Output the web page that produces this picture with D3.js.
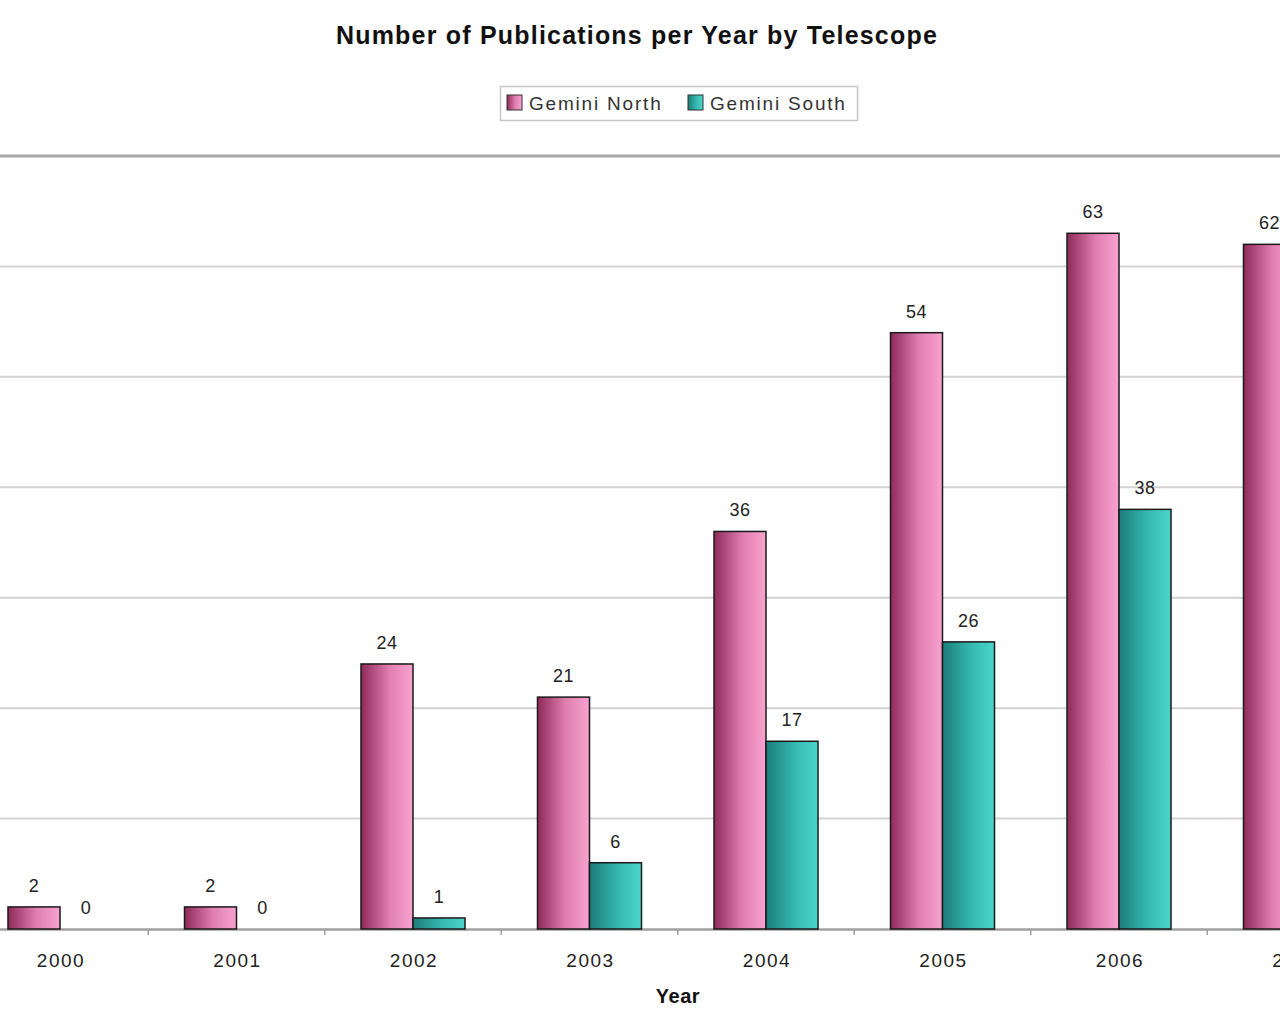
<!DOCTYPE html>
<html><head><meta charset="utf-8">
<script src="https://cdn.jsdelivr.net/npm/d3@7/dist/d3.min.js"></script>
<style>body{margin:0;background:#fff;}svg{display:block;font-family:"Liberation Sans",Arial,sans-serif;}</style>
</head><body>
<svg id="chart" width="1280" height="1024"></svg>
<script>
const years = ["2000","2001","2002","2003","2004","2005","2006","2007"];
const seriesNames = ["Gemini North","Gemini South"];
const northValues = [2, 2, 24, 21, 36, 54, 63, 62];
const southValues = [0, 0, 1, 6, 17, 26, 38, null];
const yTicks = [0,10,20,30,40,50,60,70];
const chartTitle = "Number of Publications per Year by Telescope";
const xTitle = "Year";

const svg = d3.select("#chart");
const defs = svg.append("defs");
function grad(id, c1, c2, c3){
  const g = defs.append("linearGradient").attr("id", id).attr("x1","0").attr("x2","1").attr("y1","0").attr("y2","0");
  g.append("stop").attr("offset","0%").attr("stop-color",c1);
  g.append("stop").attr("offset","55%").attr("stop-color",c2);
  g.append("stop").attr("offset","100%").attr("stop-color",c3);
}
grad("gN","#8f2a5a","#e07fb0","#f8a2cf");
grad("gS","#1b7c78","#36b8b0","#4ad6cd");
const fills = ["url(#gN)","url(#gS)"];

const x = d3.scaleBand().domain(years).range([-28.25, -28.25 + 176.5*years.length]).paddingInner(0).paddingOuter(0);
const y = d3.scaleLinear().domain([0,70]).range([929,156]);
const xs = d3.scaleBand().domain(seriesNames).range([x.bandwidth()/2 - 52, x.bandwidth()/2 + 52]);

// gridlines
svg.append("g").selectAll("line").data(yTicks.filter(d=>d>0)).join("line")
  .attr("x1",0).attr("x2",1280).attr("y1",d=>y(d)).attr("y2",d=>y(d))
  .attr("stroke", d=> d===70 ? "#a8a8a8" : "#d2d2d2")
  .attr("stroke-width", d=> d===70 ? 3 : 2);

// x axis
const xAxis = svg.append("g").attr("transform",`translate(0,${y(0)})`)
  .call(d3.axisBottom(x).tickSize(0).tickPadding(25));
xAxis.select(".domain").attr("stroke","#a0a0a0").attr("stroke-width",2.5);
xAxis.selectAll("text").attr("font-size",19).attr("fill","#222").attr("letter-spacing",1.5)
  .attr("dx",1).attr("font-family","Liberation Sans, Arial, sans-serif");
// boundary ticks
svg.append("g").selectAll("line").data(years.slice(1)).join("line")
  .attr("x1",d=>x(d)).attr("x2",d=>x(d)).attr("y1",y(0)).attr("y2",y(0)+6)
  .attr("stroke","#a0a0a0").attr("stroke-width",1.5);

const data = years.map((yr,i)=>({year:yr, vals:[northValues[i], southValues[i]]}));
const groups = svg.append("g").selectAll("g").data(data).join("g")
  .attr("transform",d=>`translate(${x(d.year)},0)`);
groups.selectAll("rect").data(d=>d.vals.map((v,j)=>({v, s:seriesNames[j], j}))).join("rect")
  .filter(d=>d.v!==null && d.v>0)
  .attr("x",d=>xs(d.s)).attr("width",xs.bandwidth())
  .attr("y",d=>y(d.v)).attr("height",d=>y(0)-y(d.v))
  .attr("fill",d=>fills[d.j]).attr("stroke","#1a1a1a").attr("stroke-width",1.5);
groups.selectAll("text").data(d=>d.vals.map((v,j)=>({v, s:seriesNames[j], j}))).join("text")
  .filter(d=>d.v!==null)
  .attr("x",d=>xs(d.s)+xs.bandwidth()/2).attr("y",d=>y(d.v)-15)
  .attr("text-anchor","middle").attr("font-size",18).attr("letter-spacing",0.5).attr("fill","#222").text(d=>d.v);

// title
svg.append("text").attr("x",637).attr("y",44).attr("text-anchor","middle")
  .attr("font-size",25).attr("font-weight","bold").attr("letter-spacing",1.2).attr("fill","#111").text(chartTitle);
svg.append("text").attr("x",678).attr("y",1003).attr("text-anchor","middle")
  .attr("font-size",20).attr("font-weight","bold").attr("letter-spacing",0.5).attr("fill","#111").text(xTitle);

// legend
const lg = svg.append("g");
lg.append("rect").attr("x",500.5).attr("y",86.5).attr("width",357).attr("height",34)
  .attr("fill","#fff").attr("stroke","#c8c8c8").attr("stroke-width",1.5);
const legendX = [507, 688];
seriesNames.forEach((n,i)=>{
  lg.append("rect").attr("x",legendX[i]).attr("y",95).attr("width",15).attr("height",15)
    .attr("fill",fills[i]).attr("stroke","#333").attr("stroke-width",1);
  lg.append("text").attr("x",legendX[i]+22).attr("y",110).attr("font-size",19).attr("letter-spacing",1.8)
    .attr("fill","#333").text(n);
});
</script>
</body></html>
